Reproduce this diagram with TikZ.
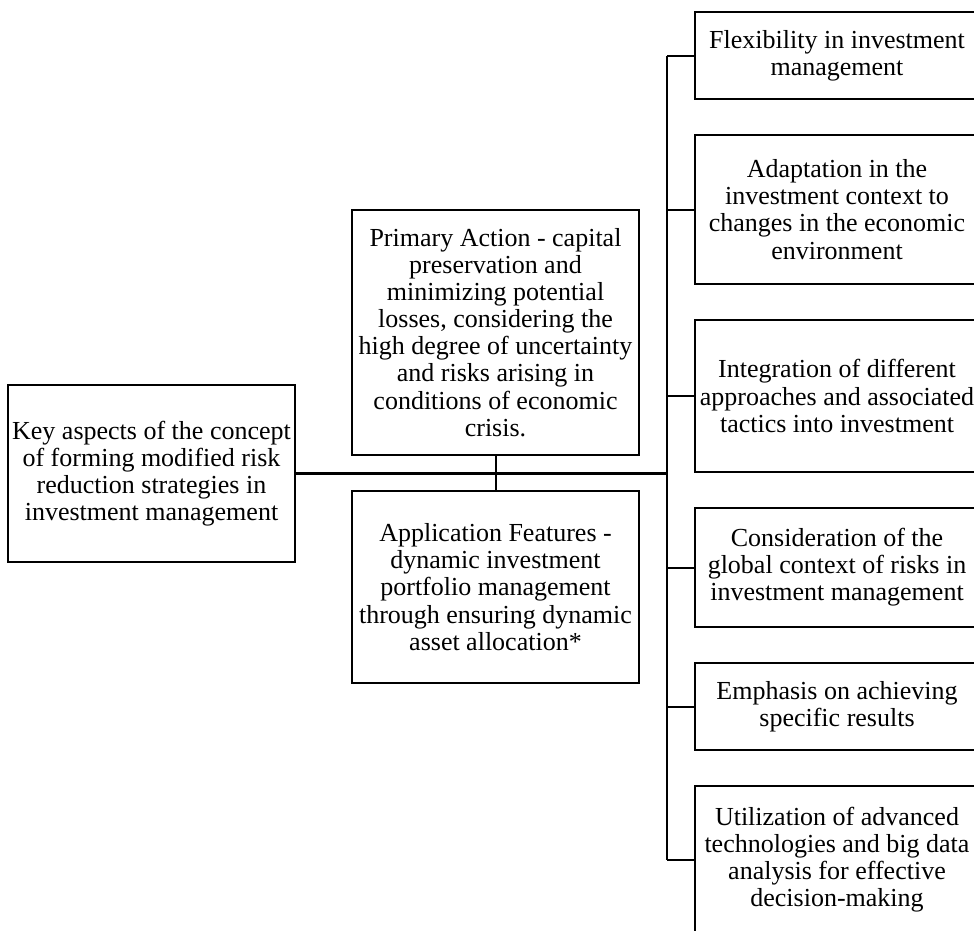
\documentclass[tikz,border=0pt]{standalone}
\usepackage{fontspec}
\setmainfont{Liberation Serif}
\begin{document}
\begin{tikzpicture}[x=1pt,y=-1pt,
  box/.style={draw, line width=2pt, align=center, inner sep=0pt, minimum width=#1,
     font=\fontsize{26}{27.1}\selectfont},
  box/.default=287pt,
  conn/.style={line width=2pt},
  mainconn/.style={line width=3pt}]
\useasboundingbox (0,0) rectangle (974,930);
\clip (0,0) rectangle (974,930);
\node[box, minimum height=177pt] (key) at (151.5,473.5) {Key aspects of the concept\\of forming modified risk\\reduction strategies in\\investment management};
\node[box, minimum height=245pt] (prim) at (495.5,332.5) {Primary Action - capital\\preservation and\\minimizing potential\\losses, considering the\\high degree of uncertainty\\and risks arising in\\conditions of economic\\crisis.};
\node[box, minimum height=192pt] (appl) at (495.5,587) {Application Features -\\dynamic investment\\portfolio management\\through ensuring dynamic\\asset allocation*};
\node[box=284pt, minimum height=87pt] (r1) at (837,55.5) {Flexibility in investment\\management};
\node[box=284pt, minimum height=149pt] (r2) at (837,209.5) {Adaptation in the\\investment context to\\changes in the economic\\environment};
\node[box=284pt, minimum height=152pt] (r3) at (837,396) {Integration of different\\approaches and associated\\tactics into investment};
\node[box=284pt, minimum height=119pt] (r4) at (837,567.5) {Consideration of the\\global context of risks in\\investment management};
\node[box=284pt, minimum height=87pt] (r5) at (837,706.5) {Emphasis on achieving\\specific results};
\node[box=284pt, minimum height=147pt] (r6) at (837,859.5) {Utilization of advanced\\technologies and big data\\analysis for effective\\decision-making};
\coordinate (ttop) at (667,55.5);
\coordinate (tbot) at (667,859.5);
\coordinate (tmid) at (667,473.5);
\draw[conn] (ttop) -- (tbot);
\draw[mainconn] (key.east) -- (tmid);
\draw[conn] (prim.south) -- (appl.north);
\foreach \n in {r1,r2,r3,r4,r5,r6} \draw[conn] (667,0 |- \n.west) -- (\n.west);
\end{tikzpicture}
\end{document}
